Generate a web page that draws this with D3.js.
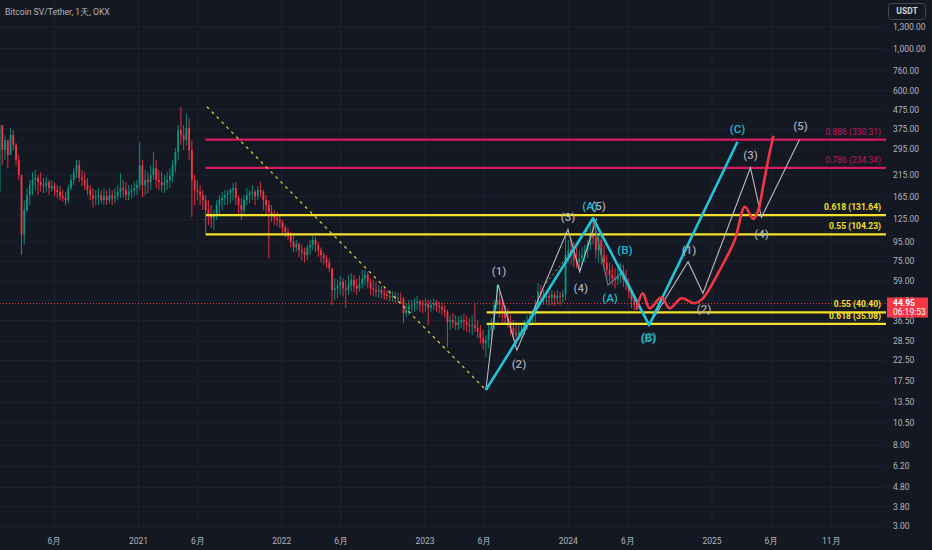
<!DOCTYPE html>
<html lang="zh">
<head>
<meta charset="UTF-8" />
<title>Bitcoin SV/Tether, 1天, OKX</title>
<script src="https://d3js.org/d3.v7.min.js"></script>
<style>
  html, body { margin: 0; padding: 0; background: #141823; }
  svg { display: block; }
  text { font-family: Roboto, "Noto Sans", sans-serif; }
</style>
</head>
<body>
<svg id="chart" width="932" height="550"></svg>
<script>
// weekly candles, first week starts 2020-01-13
const firstWeek = "2020-01-13";
const firstOpen = 175;
const highs = [467,394,349,328,380,371,317,274,215,158,
  183,202,222,228,215,222,207,210,202,202,
  197,190,188,179,175,190,215,233,258,258,
  228,222,207,190,183,179,183,179,183,179,
  183,179,183,190,220,202,197,190,190,197,
  202,320,258,228,222,242,284,258,228,222,
  215,222,233,258,298,394,490,394,455,430,
  328,215,202,190,179,168,158,149,140,158,
  168,175,179,179,183,195,197,168,162,168,
  183,179,190,179,188,197,179,168,158,149,
  140,137,132,124.5,117,113,107,102.5,97.5,94,
  92,89,92,97.5,102.5,101,95,89,84,81,
  78,69,61,60,63,61,60,63.6,65,63.6,
  61,63,67.6,67.6,66,61,60,58.5,56.3,55.6,
  54,53,53,52.3,52,51.3,51.3,48.7,45.3,47,
  47,48,49.3,47,47,48,47,47,48,47,
  46,45.3,44.2,41.6,39,40,39,38.6,39,39.6,
  38.6,37.7,39,45.3,36.8,34.6,32.6,30.6,34.6,37.7,
  47,56.3,52,48,44.2,42.6,39,36.8,35.9,34.6,
  35.5,36.8,39,40.6,41.6,47,57.7,56.3,53,53,
  52,53,52,53,52,53,107,97.5,99.9,95,
  89,86,89.6,92,97.5,117,124.5,110,106,103.7,
  92,81,74,72,69,69,74,72,67.6,61,
  53,48,47];
const lows = [172.5,242.5,258,233,274,291,242,202,81,92,
  137,149,168,179,168,175,172,175,168,175,
  166,162,158,155,149,152,179,190,207,197,
  188,179,168,158,145,149,149,152,149,149,
  152,149,152,158,162,164,158,158,162,166,
  168,179,164,168,172,179,202,183,179,175,
  172,179,183,197,222,258,309,291,309,258,
  129,149,158,149,140,106,117,113,110,124,
  132,140,149,149,152,158,149,132,124,132,
  149,152,158,149,158,162,140,132,78,121,
  117,115,113,106,101,97.5,89,84,85,79,
  76,74,76,81,86,84,79,74,72,69,
  66,44,47,48,50,49,42.5,50,52,51.5,
  50,52,54,56,54,50,49,48.7,48,48,
  47,47,46,46,45.3,45.3,44.7,35.5,38,39,
  40,40.6,41.6,40.6,40,40.6,34.6,40.6,41.6,40.6,
  40,39,38,26.4,32.6,33.4,32.6,32.6,33.4,32.6,
  31.8,31.4,30.6,31.8,29.5,27.7,25.5,23.4,26,28.8,
  32.6,41.6,37.7,35.9,34.6,33.4,30.6,28.8,27.7,28.8,
  29.5,30.6,32.6,34.2,34.6,35.9,44.2,44.2,44.2,44.2,
  43.7,44.2,43.7,44.7,44.2,45.3,46.9,74,72,70,
  69,69,72,74,78,86,92,78,74,72,
  67.6,61,58.5,56.3,54,56.3,57.7,55,53,48,
  42.5,41.6,41.6];
const closes = [394,291,328,274,349,309,258,215,104,140,
  168,190,202,207,197,190,188,197,183,188,
  179,175,166,162,158,183,202,222,242,207,
  202,190,179,168,162,164,168,158,166,158,
  168,162,166,175,183,179,168,175,179,183,
  190,242,190,202,197,215,233,202,197,190,
  195,202,212,242,284,371,349,328,380,291,
  202,179,175,168,158,140,132,127,132,149,
  158,162,168,172,179,183,162,149,140,158,
  168,172,175,166,179,175,158,149,137,132,
  127,124.5,121,113,107,102.5,95,89,93,86,
  84,81,89,92,97.5,92,86,81,78,74,
  69,53,54,56,58.5,54,53,56,60,55.6,
  54,57,61,63.6,58.5,54,53,52,53,51,
  50,49.3,48.7,49.3,48,48,47.5,40,41.6,43.7,
  44.2,45.3,46,44.2,43.7,44.7,42.6,44.2,45.3,43.7,
  43.1,41.6,40.6,35.9,36.8,35.9,34.6,35.9,36.8,35.9,
  34.6,34.2,34.6,33.4,31.8,29.5,27.7,28.8,32.6,34.6,
  44.2,47,44.2,40.6,37.7,35.9,33.4,31.4,30.6,31.8,
  32.6,34.2,35.9,37.7,39,44.2,52,50,48.7,49.3,
  48,50,48,49.3,48.7,50.6,81,86,81,76,
  74,78,81,86,92,103.7,100,86,97.5,81,
  74,67.6,63.6,61,60,63.6,66,60,57.7,52,
  47,44.2,44.95];

const lastPrice = 44.95;
const countdown = "06:19:53";

// axis ticks
const priceTicks = [1300,1000,760,600,475,375,295,215,165,125,95,75,59,46.5,36.5,28.5,22.5,17.5,13.5,10.5,8,6.2,4.8,3.8,3];
const timeTicks = ["2020-06-01","2021-01-01","2021-06-01","2022-01-01","2022-06-01","2023-01-01","2023-06-01","2024-01-01","2024-06-01","2025-01-01","2025-06-01","2025-11-01"];
const timeTickLabels = ["6月","2021","6月","2022","6月","2023","6月","2024","6月","2025","6月","11月"];

// fibonacci levels
const fibRatios = ["0.886","0.786","0.618","0.55","0.55","0.618"];
const fibPrices = [330.31,234.34,131.64,104.23,40.40,35.08];
const fibStarts = ["2021-06-21","2021-06-21","2021-06-22","2021-06-21","2023-06-07","2023-06-07"];

// drawings
const trendDates = ["2021-06-24","2023-06-05"];
const trendPrices = [493,15.7];
const smallTrendDates = ["2023-11-06","2024-02-24"];
const smallTrendPrices = [57.7,112.6];
const impulseDates = ["2023-06-05","2023-07-06","2023-08-23","2023-12-31","2024-01-30","2024-03-13"];
const impulsePrices = [15.7,56.8,25.5,110.9,66.2,126.8];
const bigWaveDates = ["2023-06-05","2024-03-04","2024-07-25","2025-03-07"];
const bigWavePrices = [15.7,126.8,34.6,322];
const abcDates = ["2024-03-04","2024-04-11","2024-05-19","2024-07-25"];
const abcPrices = [126.8,56.3,66.2,34.6];
const projDates = ["2024-07-25","2024-11-01","2024-12-09","2025-04-09","2025-05-07","2025-08-12"];
const projPrices = [34.6,74.8,50.9,234.6,128.4,331];
const pathDates = ["2024-06-23","2024-07-09","2024-07-26","2024-08-25","2024-09-15","2024-10-15","2024-11-18","2024-12-09","2025-01-21","2025-02-28","2025-03-26","2025-04-16","2025-04-29","2025-05-11","2025-05-24","2025-06-06"];
const pathPrices = [42.4,50.9,42.4,48.5,42.4,47.9,45.1,47.9,67.6,97.4,146,125.7,140.3,186,258,342];

// wave labels, anchored on wave points
const labelTexts = ["(1)","(2)","(3)","(4)","(5)","(A)","(A)","(B)","(C)","(B)","(1)","(2)","(3)","(4)","(5)","(C)"];
const labelDates = ["2023-07-06","2023-08-23","2023-12-31","2024-01-30","2024-03-13","2024-03-04","2024-04-11","2024-05-19","2024-07-25","2024-07-25","2024-11-01","2024-12-09","2025-04-09","2025-05-07","2025-08-12","2025-03-07"];
const labelPrices = [56.8,25.5,110.9,66.2,126.8,126.8,56.3,66.2,34.6,34.6,74.8,50.9,234.6,128.4,331,322];
const labelKinds = ["w","w","w","w","w","c","c","c","d","c","w","w","w","w","w","c"];
const labelOffsets = [[1,-13],[2,14],[0,-12],[1,16],[2,-12],[-3,-12],[2,13],[2,-22],[0,12],[-1,13],[1,-12],[1,16],[0,-13],[0,17],[1,-13],[0,-13]];

const W = 932, H = 550, plotR = 886, plotB = 530;
const parse = d3.timeParse("%Y-%m-%d");
const svg = d3.select("#chart");

const x = d3.scaleTime()
  .domain([parse("2021-01-01"), parse("2025-01-01")])
  .range([138.5, 712]);
const y = d3.scaleLog().domain([3, 1300]).range([526, 27]);

svg.append("rect").attr("width", W).attr("height", H).attr("fill", "#141823");

// grid
svg.append("g").selectAll("line").data(priceTicks).join("line")
  .attr("x1", 0).attr("x2", plotR)
  .attr("y1", d => y(d)).attr("y2", d => y(d))
  .attr("stroke", "#1e2230").attr("stroke-width", 1);
svg.append("g").selectAll("line").data(timeTicks).join("line")
  .attr("x1", d => x(parse(d))).attr("x2", d => x(parse(d)))
  .attr("y1", 0).attr("y2", plotB)
  .attr("stroke", "#1e2230").attr("stroke-width", 1);

const plot = svg.append("g");
plot.append("clipPath").attr("id", "clip")
  .append("rect").attr("width", plotR).attr("height", plotB);
const g = plot.append("g").attr("clip-path", "url(#clip)");

// candles
const start = parse(firstWeek);
const candles = closes.map((c, i) => {
  const o = i === 0 ? firstOpen : closes[i - 1];
  return {
    date: d3.timeDay.offset(start, i * 7),
    o, c,
    h: Math.max(highs[i], o, c),
    l: Math.min(lows[i], o, c)
  };
});
const up = "#089981", down = "#f23645";
const cg = g.append("g");
cg.selectAll("line").data(candles).join("line")
  .attr("x1", d => x(d.date)).attr("x2", d => x(d.date))
  .attr("y1", d => y(d.h)).attr("y2", d => y(d.l))
  .attr("stroke", d => d.c >= d.o ? up : down).attr("stroke-width", 0.9);
cg.selectAll("rect").data(candles).join("rect")
  .attr("x", d => x(d.date) - 0.9).attr("width", 1.8)
  .attr("y", d => y(Math.max(d.o, d.c)))
  .attr("height", d => Math.max(0.8, Math.abs(y(d.o) - y(d.c))))
  .attr("fill", d => d.c >= d.o ? up : down);

// last price dotted line
g.append("line")
  .attr("x1", 0).attr("x2", plotR)
  .attr("y1", y(lastPrice)).attr("y2", y(lastPrice))
  .attr("stroke", "#f23645").attr("stroke-width", 1)
  .attr("stroke-dasharray", "1,2");

// fib levels
const fibs = fibPrices.map((p, i) => ({ p, r: fibRatios[i], d: parse(fibStarts[i]), red: i < 2 }));
g.selectAll(".fib").data(fibs).join("line")
  .attr("class", "fib")
  .attr("x1", d => x(d.d)).attr("x2", plotR)
  .attr("y1", d => y(d.p)).attr("y2", d => y(d.p))
  .attr("stroke", d => d.red ? "#d81b60" : "#f5e12a")
  .attr("stroke-width", 2.2);
g.selectAll(".fibl").data(fibs).join("text")
  .attr("class", "fibl")
  .attr("x", 881).attr("y", d => y(d.p) - 5)
  .attr("text-anchor", "end")
  .attr("font-size", 8.5)
  .attr("font-weight", d => d.red ? 400 : 700)
  .attr("fill", d => d.red ? "#c2185b" : "#f5e12a")
  .text(d => `${d.r} (${d3.format(".2f")(d.p)})`);

const line = d3.line().x(d => x(parse(d[0]))).y(d => y(d[1]));
const zipPts = (ds, ps) => ds.map((d, i) => [d, ps[i]]);

// yellow dashed trendlines
g.append("path").attr("d", line(zipPts(trendDates, trendPrices)))
  .attr("fill", "none").attr("stroke", "#d8c440").attr("stroke-width", 1.3)
  .attr("stroke-dasharray", "3,4");
g.append("path").attr("d", line(zipPts(smallTrendDates, smallTrendPrices)))
  .attr("fill", "none").attr("stroke", "#b8a83a").attr("stroke-width", 1)
  .attr("stroke-dasharray", "2,3");

// impulse zigzags
g.append("path").attr("d", line(zipPts(impulseDates, impulsePrices)))
  .attr("fill", "none").attr("stroke", "#b8bbc4").attr("stroke-width", 1.1);
g.append("path").attr("d", line(zipPts(abcDates, abcPrices)))
  .attr("fill", "none").attr("stroke", "#4f7f88").attr("stroke-width", 1.2);
g.append("path").attr("d", line(zipPts(projDates, projPrices)))
  .attr("fill", "none").attr("stroke", "#b8bbc4").attr("stroke-width", 1.1);
g.append("path").attr("d", line(zipPts(bigWaveDates, bigWavePrices)))
  .attr("fill", "none").attr("stroke", "#22c3d6").attr("stroke-width", 2.6)
  .attr("stroke-linejoin", "round");

// projected path
g.append("path")
  .attr("d", d3.line().curve(d3.curveCatmullRom.alpha(0.5))
    .x(d => x(parse(d[0]))).y(d => y(d[1]))(zipPts(pathDates, pathPrices)))
  .attr("fill", "none").attr("stroke", "#f23645").attr("stroke-width", 2.6)
  .attr("stroke-linecap", "round");

// wave labels
const kindColor = { w: "#b2b5be", c: "#26c6da", d: "#1a8d9c" };
g.selectAll(".wl").data(labelTexts).join("text")
  .attr("class", "wl")
  .attr("x", (t, i) => x(parse(labelDates[i])) + labelOffsets[i][0])
  .attr("y", (t, i) => y(labelPrices[i]) + labelOffsets[i][1])
  .attr("dy", "0.35em")
  .attr("text-anchor", "middle")
  .attr("font-size", 11.5).attr("font-weight", 500)
  .attr("fill", (t, i) => kindColor[labelKinds[i]])
  .attr("fill-opacity", (t, i) => labelKinds[i] === "d" ? 1 : 0.95)
  .text(t => t);

// title
svg.append("text").attr("x", 5).attr("y", 15)
  .attr("font-family", "'DejaVu Sans Mono', monospace")
  .attr("font-size", 8.6).attr("fill", "#b2b5be")
  .text("Bitcoin SV/Tether, 1天, OKX");

// price axis
const fmt = d3.format(",.2f");
svg.append("g").selectAll("text").data(priceTicks).join("text")
  .attr("x", 893).attr("y", d => y(d)).attr("dy", "0.35em")
  .attr("font-size", 8.5).attr("fill", "#b2b5be")
  .text(d => fmt(d));

// time axis
svg.append("g").selectAll("text").data(timeTicks).join("text")
  .attr("x", d => x(parse(d))).attr("y", 541).attr("dy", "0.35em")
  .attr("text-anchor", "middle")
  .attr("font-size", 8.5).attr("fill", "#b2b5be")
  .text((d, i) => timeTickLabels[i]);

// currency badge
svg.append("rect").attr("x", 888.5).attr("y", 3.5).attr("width", 37).attr("height", 16)
  .attr("rx", 3).attr("fill", "#141823").attr("stroke", "#434651");
svg.append("text").attr("x", 907).attr("y", 11.5).attr("dy", "0.35em")
  .attr("text-anchor", "middle").attr("font-size", 8.5).attr("font-weight", 700)
  .attr("fill", "#d1d4dc").text("USDT");

// last price badge
const py = y(lastPrice);
svg.append("rect").attr("x", 887).attr("y", py - 6).attr("width", 41).attr("height", 20)
  .attr("fill", "#f23645");
svg.append("text").attr("x", 893).attr("y", py).attr("dy", "0.35em")
  .attr("font-size", 8.5).attr("font-weight", 700).attr("fill", "#ffffff").text(lastPrice.toFixed(2));
svg.append("text").attr("x", 893).attr("y", py + 9).attr("dy", "0.35em")
  .attr("font-size", 8.5).attr("fill", "#ffffff").text(countdown);
</script>
</body>
</html>
